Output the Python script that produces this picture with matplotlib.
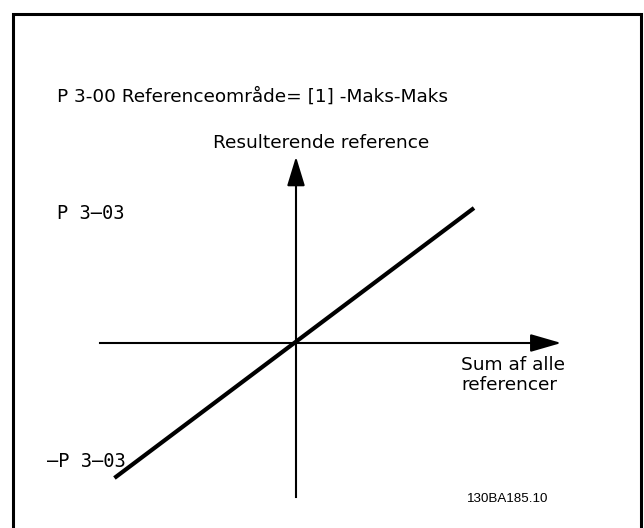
import matplotlib.pyplot as plt
from matplotlib.patches import Rectangle

# diagram data: summed references -> resulting reference (range -Max..Max)
ref_sum = [-1.02, 1.0]
ref_out = [-1.0, 1.0]
axis_x = [-1.10, 1.49]     # extent of the horizontal axis
axis_y = [-1.14, 1.38]     # extent of the vertical axis
p303_levels = [0.96, -0.88]
p303_labels = ["P 3\u201303", "\u2013P 3\u201303"]
title = "P 3-00 Referenceområde= [1] -Maks-Maks"
y_label = "Resulterende reference"
x_label = "Sum af alle\nreferencer"
code = "130BA185.10"

fig = plt.figure(figsize=(6.44, 5.28), dpi=100)
ax = fig.add_axes([0, 0, 1, 1])
# pixel layout: origin at (296, 343), 178 px per x unit, 135 px per y unit
ax.set_xlim(-296 / 178, (644 - 296) / 178)
ax.set_ylim((343 - 528) / 135, 343 / 135)
ax.axis('off')

# frame (open at the bottom edge of the image)
fr = Rectangle((13 / 644, -0.1), (641 - 13) / 644, (528 - 14) / 528 + 0.1,
               transform=ax.transAxes, fill=False, lw=2.2, ec='black',
               clip_on=False)
ax.add_patch(fr)

# axes with arrow heads
ax.plot([axis_x[0], axis_x[1] - 0.14], [0, 0], color='black', lw=1.5)
ax.plot([0, 0], [axis_y[0], axis_y[1] - 0.16], color='black', lw=1.5)
ax.annotate("", xy=(axis_x[1], 0), xytext=(axis_x[1] - 0.15, 0),
            arrowprops=dict(arrowstyle="-|>,head_length=1.9,head_width=0.55",
                            color='black', lw=1.5, shrinkA=0, shrinkB=0))
ax.annotate("", xy=(0, axis_y[1]), xytext=(0, axis_y[1] - 0.19),
            arrowprops=dict(arrowstyle="-|>,head_length=1.8,head_width=0.55",
                            color='black', lw=1.5, shrinkA=0, shrinkB=0))

# transfer line
ax.plot(ref_sum, ref_out, color='black', lw=3.0, solid_capstyle='butt')

# texts
fs = 13.3
ax.text(-296 / 178 + 57 / 178, (343 - 97) / 135, title, fontsize=fs,
        ha='left', va='center', family='DejaVu Sans')
ax.text((321 - 296) / 178, (343 - 143) / 135, y_label, fontsize=fs,
        ha='center', va='center', family='DejaVu Sans')
ax.text((461 - 296) / 178, (343 - 375) / 135, x_label, fontsize=fs,
        ha='left', va='center', linespacing=1.15, family='DejaVu Sans')
ax.text((57 - 296) / 178, p303_levels[0], p303_labels[0], fontsize=13.5,
        ha='left', va='center', family='DejaVu Sans Mono')
ax.text((47 - 296) / 178, p303_levels[1], p303_labels[1], fontsize=13.5,
        ha='left', va='center', family='DejaVu Sans Mono')
ax.text((508 - 296) / 178, (343 - 499) / 135, code, fontsize=9.6,
        ha='center', va='center',
        family=['Liberation Sans Narrow', 'Liberation Sans', 'DejaVu Sans'])

fig.savefig("out.png", dpi=100)
